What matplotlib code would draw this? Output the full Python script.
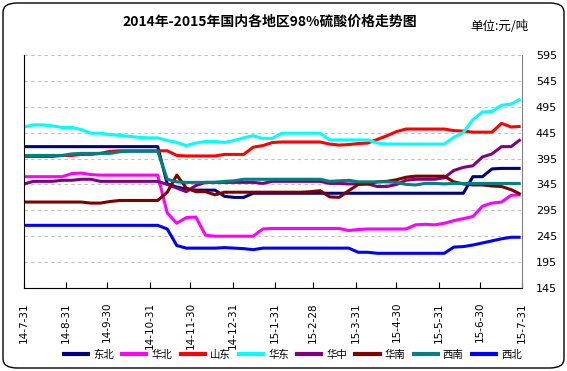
import matplotlib.pyplot as plt
import matplotlib.dates as mdates
from matplotlib.patches import FancyBboxPatch
import pandas as pd

plt.rcParams["font.family"] = ["Noto Sans CJK SC", "DejaVu Sans"]

# weekly price points, 2014-07-31 .. 2015-07-30
dates = pd.date_range("2014-07-31", periods=53, freq="7D")

dongbei = [418] * 15 + [346, 340, 336, 334, 334, 334, 322, 320, 320, 328] + [328] * 22 + [360, 360, 375, 376, 376, 376]
huabei = [360, 360, 360, 360, 360, 366, 367, 364, 363, 363, 363, 363, 363, 363, 363,
          290, 270, 281, 282, 247, 245, 245, 245, 245, 245, 259,
          260, 260, 260, 260, 260, 260, 260, 260, 256, 258,
          259, 259, 259, 259, 259, 267, 268, 267, 270, 275, 279, 283, 303, 309, 311, 324, 325]
shandong = [399, 399, 399, 399, 401, 401, 403, 403, 405, 409, 410, 410, 410, 410, 410, 410,
            401, 400, 400, 400, 400, 403, 403, 403, 417, 420, 426,
            427, 427, 427, 427, 427, 423, 421, 422, 424, 425, 432, 439, 447, 452,
            452, 452, 452, 452, 449, 448, 446, 446, 446, 463, 456, 457]
huadong = [456, 460, 460, 458, 455, 455, 451, 444, 444, 441, 440, 438, 436, 435, 435,
           430, 426, 420, 425, 428, 428, 426, 430, 435, 439, 434, 434,
           444, 444, 444, 444, 444, 431, 431, 431, 431, 431, 425, 423,
           423, 423, 423, 423, 423, 423, 436, 445, 470, 485, 486, 498, 500, 510]
huazhong = [346, 351, 351, 351, 353, 353, 355, 355, 351, 351, 351, 351, 351, 351, 351,
            345, 338, 331, 343, 349, 349, 349, 349, 349, 349, 347, 351,
            351, 351, 351, 351, 351, 347, 347, 346, 346, 346, 341, 341, 345, 353,
            355, 355, 355, 358, 372, 378, 381, 398, 404, 418, 418, 432]
huanan = [311, 311, 311, 311, 311, 311, 311, 309, 309, 312, 314, 314, 314, 314, 314,
          330, 363, 338, 331, 331, 325, 330, 330, 330, 330, 330, 330, 330, 330, 330,
          331, 333, 321, 320, 333, 345, 346, 350, 351, 354, 359,
          361, 361, 361, 361, 350, 346, 344, 344, 342, 341, 335, 326]
xinan = [401, 401, 401, 401, 401, 404, 405, 405, 405, 405, 408, 409, 409, 409, 409,
         355, 350, 349, 349, 349, 349, 351, 352, 355, 355, 355, 355, 355, 355, 355, 355, 355,
         351, 352, 353, 350, 350, 350, 350, 349, 345, 344, 347, 347, 346,
         347, 347, 347, 347, 347, 347, 347, 347]
xibei = [266] * 15 + [259, 227, 222, 222, 222, 222, 223, 222, 221, 219] + [222] * 10 + \
        [214, 214, 212, 212, 212, 212, 212, 212, 212, 212, 224, 225, 228, 232, 236, 240, 243, 243]

names = ["东北", "华北", "山东", "华东", "华中", "华南", "西南", "西北"]
series = [dongbei, huabei, shandong, huadong, huazhong, huanan, xinan, xibei]
colors = ["#000080", "#FF00FF", "#FF0000", "#00FFFF", "#800080", "#800000", "#008080", "#0000FF"]

tick_dates = pd.to_datetime(["2014-07-31", "2014-08-31", "2014-09-30", "2014-10-31", "2014-11-30",
                             "2014-12-31", "2015-01-31", "2015-02-28", "2015-03-31", "2015-04-30",
                             "2015-05-31", "2015-06-30", "2015-07-31"])
tick_labels = ["14-7-31", "14-8-31", "14-9-30", "14-10-31", "14-11-30", "14-12-31", "15-1-31",
               "15-2-28", "15-3-31", "15-4-30", "15-5-31", "15-6-30", "15-7-31"]
y_ticks = [145, 195, 245, 295, 345, 395, 445, 495, 545, 595]

fig = plt.figure(figsize=(5.67, 3.71), dpi=100)
ax = fig.add_axes([24 / 567, 1 - 288 / 371, 498 / 567, 233 / 371])

for name, vals, c in zip(names, series, colors):
    ax.plot(dates, vals, color=c, lw=2.2, label=name, solid_capstyle="butt")

ax.set_xlim(tick_dates[0], tick_dates[-1])
ax.set_ylim(145, 595)
ax.set_xticks(tick_dates)
ax.set_xticklabels(tick_labels, rotation=90, fontsize=7.5, family=["DejaVu Sans"])
ax.tick_params(axis="x", direction="in", length=4, pad=10)

ax.yaxis.tick_right()
ax.set_yticks(y_ticks)
ax.set_yticklabels([str(v) for v in y_ticks], fontsize=8, family=["DejaVu Sans"])
ax.tick_params(axis="y", length=0, pad=10)
ax.grid(axis="y", color="#c0c0c0", linestyle=(0, (3, 3)), lw=0.8)

ax.spines["top"].set_visible(False)
ax.spines["right"].set_color("#808080")
ax.spines["left"].set_color("black")
ax.spines["bottom"].set_color("black")

fig.text(270 / 567, 1 - 22 / 371, "2014年-2015年国内各地区98%硫酸价格走势图",
         ha="center", va="center", fontsize=10, fontweight="bold")
fig.text(499 / 567, 1 - 26 / 371, "单位:元/吨", ha="center", va="center", fontsize=9)

fig.legend(loc="center", bbox_to_anchor=(292 / 567, 1 - 355 / 371), ncol=8, frameon=False,
           fontsize=7.5, handlelength=2.7, handletextpad=0.3, columnspacing=0.6)
for line in fig.legends[0].get_lines():
    line.set_linewidth(3)

border = FancyBboxPatch((3 / 567, 3 / 371), 561 / 567, 365 / 371, boxstyle="round,pad=0,rounding_size=0.025",
                        transform=fig.transFigure, fill=False, ec="black", lw=1)
fig.patches.append(border)

fig.savefig("out.png", dpi=100, facecolor="white")
